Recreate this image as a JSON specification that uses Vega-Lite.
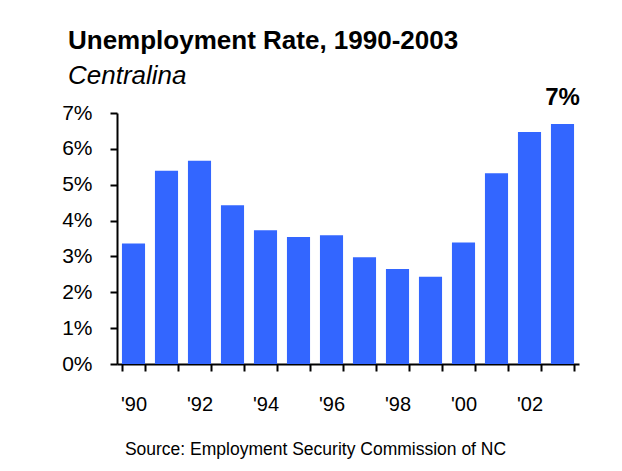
{
  "$schema": "https://vega.github.io/schema/vega-lite/v6.json",
  "width": 462,
  "height": 251,
  "autosize": {"type": "none"},
  "padding": {"left": 117, "top": 113, "right": 43, "bottom": 107},
  "background": "white",
  "title": {
    "text": "Unemployment Rate, 1990-2003",
    "subtitle": "\u00a0Centralina",
    "anchor": "start",
    "frame": "group",
    "dx": -49,
    "offset": -3,
    "font": "Liberation Sans",
    "fontSize": 26,
    "fontWeight": "bold",
    "color": "black",
    "subtitleFont": "Liberation Sans",
    "subtitleFontSize": 26,
    "subtitleFontStyle": "italic",
    "subtitleColor": "black",
    "subtitlePadding": 9
  },
  "data": {
    "values": [
      {"year": 1990, "rate": 0.0336},
      {"year": 1991, "rate": 0.0539},
      {"year": 1992, "rate": 0.0567},
      {"year": 1993, "rate": 0.0443},
      {"year": 1994, "rate": 0.0373},
      {"year": 1995, "rate": 0.0354},
      {"year": 1996, "rate": 0.0359},
      {"year": 1997, "rate": 0.0298},
      {"year": 1998, "rate": 0.0265},
      {"year": 1999, "rate": 0.0243},
      {"year": 2000, "rate": 0.0339},
      {"year": 2001, "rate": 0.0532},
      {"year": 2002, "rate": 0.0647},
      {"year": 2003, "rate": 0.0669}
    ]
  },
  "encoding": {
    "x": {
      "field": "year",
      "type": "ordinal",
      "scale": {"paddingInner": 0.3, "paddingOuter": 0.15},
      "axis": {
        "title": "Source: Employment Security Commission of NC",
        "titleFont": "Liberation Sans",
        "titleFontSize": 17.5,
        "titleFontWeight": "normal",
        "titleColor": "black",
        "titleX": 198,
        "titleAlign": "center",
        "titlePadding": 26,
        "labelExpr": "datum.value % 2 == 0 ? \"'\" + substring(toString(datum.value), 2, 4) : ''",
        "labelAngle": 0,
        "labelFont": "Liberation Sans",
        "labelFontSize": 20,
        "labelColor": "black",
        "labelPadding": 23,
        "labelOverlap": false,
        "tickBand": "extent",
        "tickSize": 7,
        "tickWidth": 2,
        "tickColor": "black",
        "domainColor": "black",
        "domainWidth": 2
      }
    },
    "y": {
      "field": "rate",
      "type": "quantitative",
      "scale": {"domain": [0, 0.07], "nice": false},
      "axis": {
        "title": null,
        "values": [0, 0.01, 0.02, 0.03, 0.04, 0.05, 0.06, 0.07],
        "format": ".0%",
        "grid": false,
        "labelFont": "Liberation Sans",
        "labelFontSize": 21,
        "labelColor": "black",
        "labelPadding": 18,
        "tickSize": 7,
        "tickWidth": 2,
        "tickColor": "black",
        "domainColor": "black",
        "domainWidth": 2
      }
    }
  },
  "layer": [
    {"mark": {"type": "bar", "color": "#3366FF"}},
    {
      "transform": [{"filter": "datum.year == 2003"}],
      "mark": {
        "type": "text",
        "baseline": "alphabetic",
        "dy": -19,
        "font": "Liberation Sans",
        "fontSize": 24,
        "fontWeight": "bold",
        "color": "black"
      },
      "encoding": {"text": {"field": "rate", "type": "quantitative", "format": ".0%"}}
    }
  ],
  "config": {"view": {"stroke": null}, "axis": {"grid": false}}
}
